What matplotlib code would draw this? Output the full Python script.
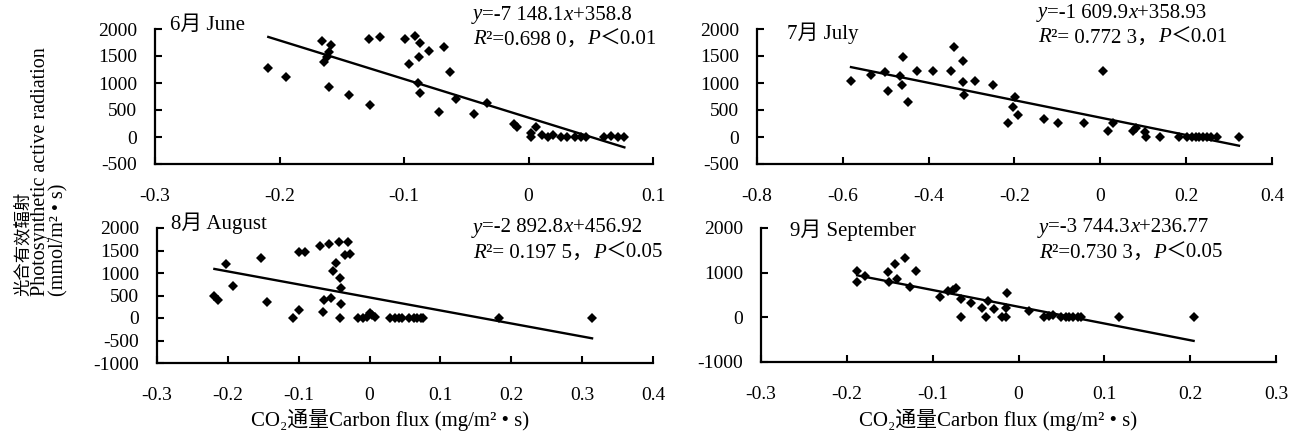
import numpy as np
import matplotlib
matplotlib.use("Agg")
import matplotlib.pyplot as plt

W, H = 1307, 441
FAMILY = ["Liberation Serif", "Noto Sans CJK SC", "DejaVu Serif"]

# ---- data ----
june_x = [-0.209, -0.195, -0.166, -0.159, -0.160, -0.162, -0.164, -0.160, -0.144, -0.127,
          -0.128, -0.119, -0.099, -0.091, -0.087, -0.080, -0.088, -0.096, -0.068, -0.063,
          -0.089, -0.087, -0.058, -0.072, -0.044, -0.033, -0.012, -0.009,
          0.002, 0.006, 0.002, 0.011, 0.016, 0.020, 0.026, 0.031, 0.037, 0.042, 0.046,
          0.061, 0.066, 0.072, 0.077]
june_y = [1270, 1115, 1780, 1700, 1580, 1485, 1395, 930, 775, 590,
          1815, 1855, 1815, 1870, 1745, 1595, 1475, 1345, 1670, 1195,
          995, 820, 705, 455, 420, 635, 250, 190,
          70, 190, 0, 35, 0, 35, 0, 0, 0, 0, 0,
          0, 10, 0, 0]

july_x = [-0.581, -0.535, -0.502, -0.494, -0.466, -0.463, -0.460, -0.447, -0.428, -0.390,
          -0.348, -0.341, -0.321, -0.320, -0.317, -0.293, -0.251, -0.198, -0.204, -0.191,
          -0.214, -0.131, -0.099, -0.038, 0.006, 0.018, 0.030, 0.077, 0.082, 0.105,
          0.107, 0.138, 0.184, 0.203, 0.213, 0.222, 0.231, 0.240, 0.249, 0.258,
          0.272, 0.323]
july_y = [1035, 1150, 1200, 860, 1130, 960, 1490, 640, 1225, 1225,
          1225, 1670, 1410, 1020, 775, 1040, 960, 745, 560, 405,
          265, 335, 265, 265, 1225, 115, 265, 105, 160, 90,
          0, 0, 0, 0, 0, 0, 0, 0, 0, 0,
          0, 0]

aug_x = [-0.219, -0.214, -0.203, -0.193, -0.153, -0.145, -0.108, -0.099, -0.100, -0.091,
         -0.070, -0.057, -0.043, -0.031, -0.034, -0.027, -0.048, -0.051, -0.042, -0.040,
         -0.054, -0.064, -0.066, -0.040, -0.042, -0.016, -0.009, -0.004, 0.000, 0.003,
         0.008, 0.029, 0.036, 0.041, 0.046, 0.055, 0.062, 0.067, 0.072, 0.076,
         0.183, 0.314]
aug_y = [480, 400, 1210, 710, 1335, 360, 5, 185, 1467, 1467,
         1607, 1655, 1685, 1685, 1407, 1420, 1215, 1055, 889, 667,
         452, 407, 140, 311, 5, 0, 0, 30, 110, 70,
         30, 0, 0, 0, 0, 0, 0, 0, 0, 0,
         0, 0]

sep_x = [-0.188, -0.188, -0.179, -0.152, -0.151, -0.144, -0.142, -0.132, -0.119, -0.126,
         -0.091, -0.082, -0.076, -0.073, -0.067, -0.067, -0.055, -0.043, -0.036, -0.038,
         -0.029, -0.019, -0.015, -0.014, -0.013, 0.012, 0.030, 0.036, 0.040, 0.050,
         0.055, 0.059, 0.063, 0.069, 0.073, 0.117, 0.204]
sep_y = [1035, 795, 925, 1015, 795, 1205, 850, 1335, 1035, 680,
         445, 595, 605, 665, 405, 0, 310, 220, 370, 0,
         185, 0, 0, 200, 535, 150, 0, 35, 50, 0,
         0, 0, 0, 0, 0, 0, 0]

# regression coefficients (as printed on the chart)
slopes = [-7148.1, -1609.9, -2892.8, -3744.3]
intercepts = [358.8, 358.93, 456.92, 236.77]

titles = ["6月 June", "7月 July", "8月 August", "9月 September"]
eq_slope_txt = ["=-7 148.1", "=-1 609.9", "=-2 892.8", "=-3 744.3"]
eq_icpt_txt = ["+358.8", "+358.93", "+456.92", "+236.77"]
r2_txt = ["²=0.698 0，", "²= 0.772 3，", "²= 0.197 5，", "²=0.730 3，"]
p_txt = ["＜0.01", "＜0.01", "＜0.05", "＜0.05"]

xticks_jun = [-0.3, -0.2, -0.1, 0, 0.1]
xlabels_jun = ["-0.3", "-0.2", "-0.1", "0", "0.1"]
xticks_jul = [-0.8, -0.6, -0.4, -0.2, 0, 0.2, 0.4]
xlabels_jul = ["-0.8", "-0.6", "-0.4", "-0.2", "0", "0.2", "0.4"]
xticks_aug = [-0.3, -0.2, -0.1, 0, 0.1, 0.2, 0.3, 0.4]
xlabels_aug = ["-0.3", "-0.2", "-0.1", "0", "0.1", "0.2", "0.3", "0.4"]
xticks_sep = [-0.3, -0.2, -0.1, 0, 0.1, 0.2, 0.3]
xlabels_sep = ["-0.3", "-0.2", "-0.1", "0", "0.1", "0.2", "0.3"]

yticks_top = [-500, 0, 500, 1000, 1500, 2000]
yticks_aug = [-1000, -500, 0, 500, 1000, 1500, 2000]
yticks_sep = [-1000, 0, 1000, 2000]

xlabel_txt = "CO₂通量Carbon flux (mg/m² • s)"
ylabel_lines = ["光合有效辐射", "Photosynthetic active radiation", "(mmol/m² • s)"]

plt.rcParams["font.family"] = FAMILY
plt.rcParams["axes.unicode_minus"] = False


def frac(px, py):
    return px / W, 1 - py / H


def rich_line(fig, anchor_ax, px, py, parts, size=15):
    # chain text pieces so italic letters sit next to upright numbers
    x0, y0 = frac(px, py)
    s, st = parts[0]
    t = fig.text(x0, y0, s, fontstyle=st, fontsize=size, ha="left", va="center",
                 family=FAMILY)
    for s, st in parts[1:]:
        t = anchor_ax.annotate(s, xy=(1, 0.5), xycoords=t, ha="left", va="center",
                               fontstyle=st, fontsize=size, family=FAMILY)
    return t


fig = plt.figure(figsize=(W / 100, H / 100), dpi=100)

# axes rectangles from pixel extents (left, right, top, bottom)
rects = [(155, 653, 29, 164), (757, 1272, 29, 164),
         (157, 653, 228, 363), (761, 1276, 228, 362)]
xs = [june_x, july_x, aug_x, sep_x]
ys = [june_y, july_y, aug_y, sep_y]
xticks = [xticks_jun, xticks_jul, xticks_aug, xticks_sep]
xlabels = [xlabels_jun, xlabels_jul, xlabels_aug, xlabels_sep]
yticks = [yticks_top, yticks_top, yticks_aug, yticks_sep]
title_pos = [(170, 25), (787, 33), (171, 223), (790, 230)]
eq_pos = [(473, 15), (1038, 13), (473, 228), (1039, 228)]

for i in range(4):
    l, r, t, b = rects[i]
    ax = fig.add_axes([l / W, 1 - b / H, (r - l) / W, (b - t) / H])
    x = np.array(xs[i])
    y = np.array(ys[i])
    ax.plot(x, y, "D", color="black", ms=5.3, mew=0)
    xf = np.array([x.min(), x.max()])
    ax.plot(xf, slopes[i] * xf + intercepts[i], color="black", lw=1.7)

    ax.set_xlim(xticks[i][0], xticks[i][-1])
    ax.set_ylim(yticks[i][0], yticks[i][-1])
    ax.set_xticks(xticks[i])
    ax.set_xticklabels(xlabels[i])
    ax.set_yticks(yticks[i])
    ax.set_yticklabels([str(v) for v in yticks[i]])
    for side in ["top", "right"]:
        ax.spines[side].set_visible(False)
    for side in ["left", "bottom"]:
        ax.spines[side].set_linewidth(1.6)
    ax.tick_params(direction="in", length=5, width=1.5, labelsize=14)
    ax.tick_params(axis="x", pad=17)
    ax.tick_params(axis="y", pad=13)
    ax.patch.set_alpha(0)

    tx, ty = frac(*title_pos[i])
    fig.text(tx, ty, titles[i], fontsize=15, ha="left", va="center", family=FAMILY)

    ex, ey = eq_pos[i]
    rich_line(fig, ax, ex, ey, [("y", "italic"), (eq_slope_txt[i], "normal"),
                                ("x", "italic"), (eq_icpt_txt[i], "normal")])
    rich_line(fig, ax, ex, ey + 25, [("R", "italic"), (r2_txt[i], "normal"),
                                     ("P", "italic"), (p_txt[i], "normal")])

# x labels under bottom panels
for cx in [390, 998]:
    fx, fy = frac(cx, 420)
    fig.text(fx, fy, xlabel_txt, fontsize=15, ha="center", va="center", family=FAMILY)

# y label, three rotated lines anchored at the bottom
for (cx, size), txt in zip([(23, 12.5), (41, 14.5), (59, 14.5)], ylabel_lines):
    fx, fy = frac(cx, 296)
    fig.text(fx, fy, txt, rotation=90, fontsize=size, ha="center", va="bottom",
             family=FAMILY)

fig.savefig("out.png", dpi=100)
